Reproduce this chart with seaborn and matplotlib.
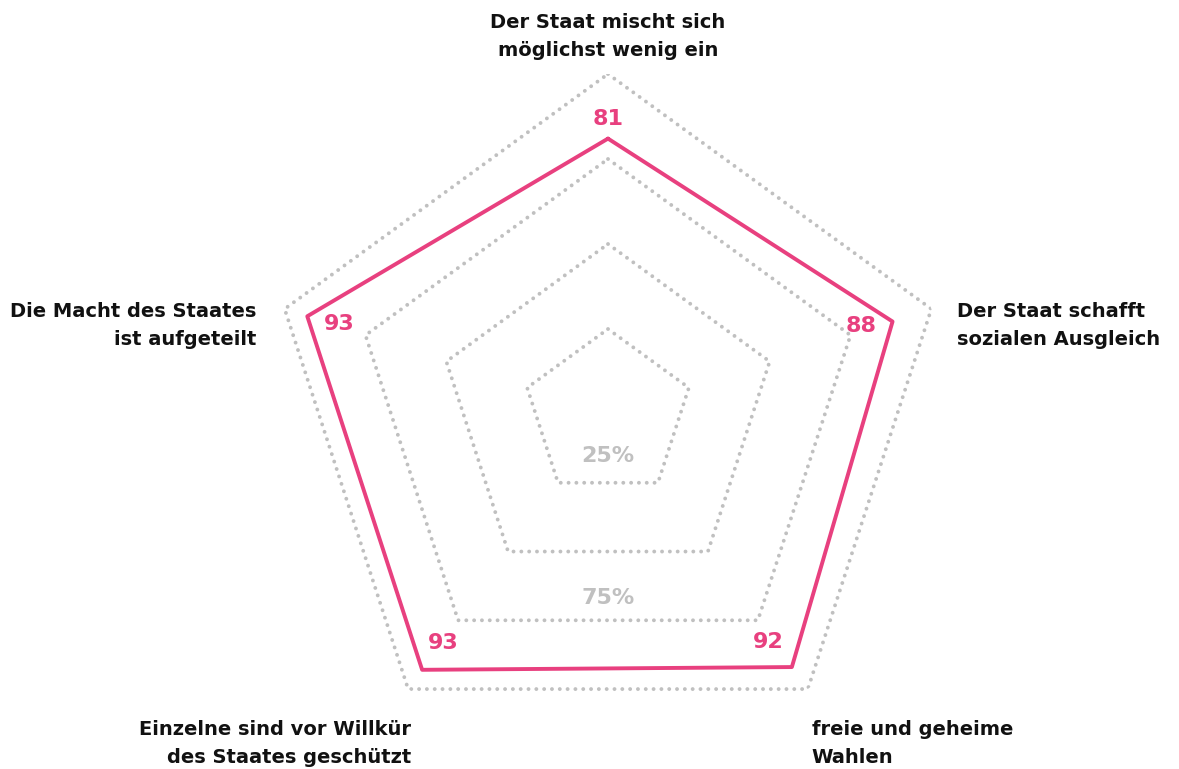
import numpy as np
import pandas as pd
import matplotlib.pyplot as plt
import seaborn as sns

# Daten
kategorien = [
    "Der Staat mischt sich\nmöglichst wenig ein",
    "Der Staat schafft\nsozialen Ausgleich",
    "freie und geheime\nWahlen",
    "Einzelne sind vor Willkür\ndes Staates geschützt",
    "Die Macht des Staates\nist aufgeteilt",
]
werte = [81, 88, 92, 93, 93]
ringe = [25, 50, 75, 100]
ringe_beschriftet = ["25%", "75%"]

pink = "#e8407f"
grau = "#c0c0c0"

sns.set_theme(style="white")
plt.rcParams["font.family"] = ["DejaVu Sans"]

n = len(kategorien)
winkel = np.linspace(0, 2 * np.pi, n, endpoint=False)
winkel_zu = np.append(winkel, winkel[0])

fig = plt.figure(figsize=(11.79, 7.69), dpi=100)
R = 340
cx, cy = 608, 769 - 414
ax = fig.add_axes([(cx - R) / 1179, (cy - R) / 769, 2 * R / 1179, 2 * R / 769],
                  projection="polar")
ax.set_theta_offset(np.pi / 2)
ax.set_theta_direction(-1)
ax.set_ylim(0, 100)
ax.set_axis_off()

# Gitter als gepunktete Fünfecke
for r in ringe:
    ax.plot(winkel_zu, [r] * (n + 1), color=grau, lw=2.8,
            linestyle=(0, (0.01, 2.0)), dash_capstyle="round")

# Datenlinie
df = pd.DataFrame({"winkel": winkel_zu, "wert": werte + werte[:1]})
sns.lineplot(data=df, x="winkel", y="wert", sort=False, ax=ax,
             color=pink, lw=2.8, estimator=None)

# Werte-Beschriftung
wert_offsets = [(0, 20), (-31, -4), (-24, 25), (21, 27), (32, -8)]
for w, v, off in zip(winkel, werte, wert_offsets):
    ax.annotate(str(v), xy=(w, v), xytext=off, textcoords="offset pixels",
                ha="center", va="center", color=pink, fontsize=16,
                fontweight="bold", annotation_clip=False)

# Prozent-Beschriftung
prozent_offsets = [(0, 27), (0, 22)]
for lab, off in zip(ringe_beschriftet, prozent_offsets):
    r = float(lab.rstrip("%"))
    ax.annotate(lab, xy=(np.pi, r * np.cos(np.pi / 5)), xytext=off,
                textcoords="offset pixels", ha="center", va="center",
                color=grau, fontsize=16, fontweight="bold", annotation_clip=False)

# Kategorien
kat_offsets = [(0, 38), (26, -17), (4, -54), (3, -54), (-28, -17)]
kat_ha = ["center", "left", "left", "right", "right"]
for w, k, off, ha in zip(winkel, kategorien, kat_offsets, kat_ha):
    ax.annotate(k, xy=(w, 100), xytext=off, textcoords="offset pixels",
                ha=ha, va="center", multialignment=ha, color="#111111",
                fontsize=14, fontweight="bold", linespacing=1.6,
                annotation_clip=False)

fig.savefig("out.png", dpi=100, facecolor="white")
